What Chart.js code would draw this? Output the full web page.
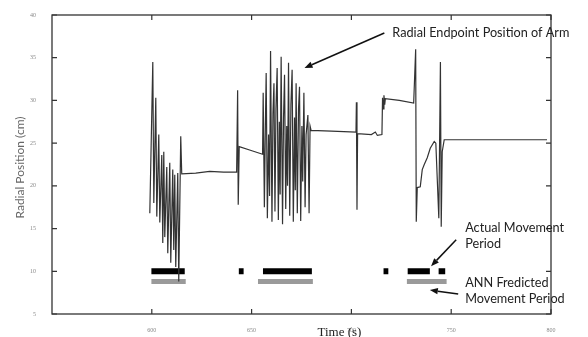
<!DOCTYPE html>
<html><head><meta charset="utf-8">
<script src="https://cdn.jsdelivr.net/npm/chart.js@4.4.1/dist/chart.umd.min.js"></script>
<style>html,body{margin:0;padding:0;background:#fff;}</style>
</head><body>
<canvas id="c" width="588" height="337"></canvas>
<script>
// ---- data ----
const sigT = [
599.0,600.5,601.0,602.0,602.5,603.5,604.0,605.0,605.5,606.0,606.5,607.5,608.0,609.0,609.5,610.5,611.0,611.5,612.0,613.0,613.5,614.5,615.0,
622,629,636,642.5,643.0,643.3,643.8,649,655.5,
655.8,656.4,656.9,657.3,657.9,658.5,659.0,659.5,660.2,660.7,661.2,661.7,662.2,662.8,663.4,663.9,664.3,664.8,665.5,666.0,666.5,667.1,667.6,668.0,668.5,669.1,669.7,670.3,670.9,671.5,671.9,672.3,672.9,673.5,674.0,674.6,675.2,675.6,676.2,676.8,677.3,678.2,678.8,679.3,679.8,
690,702.3,702.5,702.8,703.1,710,712,713,715.3,715.6,716.0,716.3,716.7,717.0,724,731.2,
732.2,732.5,733.0,734.5,735.5,736.5,738.0,739.5,741.5,742.3,743.8,744.6,745.0,745.5,746.5,798
];
const sigV = [
16.8,34.5,18.0,30.3,16.4,26.0,15.7,23.6,13.3,24.0,14.0,22.2,12.1,22.7,11.0,21.9,12.5,21.3,10.5,21.5,8.8,25.8,21.4,
21.5,21.7,21.6,21.6,31.2,17.8,24.6,24.2,23.7,
30.9,17.5,27.0,33.2,16.2,26.0,18.8,35.8,15.8,28.5,32.0,17.0,29.0,33.8,16.0,27.5,19.0,35.1,15.5,28.0,33.0,17.3,27.0,20.0,34.4,16.5,29.5,33.6,15.8,28.0,19.5,32.0,16.8,29.0,31.6,15.9,27.0,20.5,30.9,17.5,26.0,28.3,16.8,27.0,26.5,
26.4,26.3,29.8,17.2,26.1,26.0,26.3,25.9,26.0,30.3,29.0,30.6,29.5,30.2,30.0,29.7,
36.0,15.8,19.8,19.9,21.9,22.5,23.3,24.4,25.2,25.0,16.2,34.5,15.2,24.0,25.4,25.4
];
const actualStart = [599.8, 643.6, 655.7, 716.1, 728.2, 743.7];
const actualEnd   = [616.5, 646.0, 680.2, 718.5, 739.3, 747.0];
const actualLevel = 10.0;
const predStart = [599.8, 653.2, 727.8];
const predEnd   = [617.0, 680.7, 747.7];
const predLevel = 8.8;
const xTicks = [600, 650, 700, 750, 800];
const yTicks = [5, 10, 15, 20, 25, 30, 35, 40];

// ---- annotation layout (data coordinates) ----
const notes = [
  {text:'Radial Endpoint Position of Arm', t:720.5, v:37.4},
  {text:'Actual Movement', t:757, v:14.6},
  {text:'Period', t:757, v:12.7},
  {text:'ANN Fredicted', t:757, v:8.2},
  {text:'Movement Period', t:757, v:6.3}
];
const arrows = [
  {from:[716.5,37.9], to:[676.5,33.8]},
  {from:[752.5,13.7], to:[739.9,10.6]},
  {from:[753.5,7.34], to:[739.3,7.8]}
];

function pairs(ts, vs){ return ts.map((t,i)=>({x:t, y:vs[i]})); }
function segs(starts, ends, level){
  const p=[]; starts.forEach((s,i)=>{ p.push({x:s,y:level},{x:ends[i],y:level},{x:ends[i],y:null}); }); return p;
}

const deco = {
  id:'deco',
  afterDraw(chart){
    const ctx = chart.ctx, a = chart.chartArea, xs = chart.scales.x, ys = chart.scales.y;
    ctx.save();
    ctx.strokeStyle = '#333'; ctx.lineWidth = 1.3;
    ctx.strokeRect(a.left, a.top, a.right-a.left, a.bottom-a.top);
    ctx.lineWidth = 1.2; ctx.beginPath();
    xTicks.forEach(t=>{ const px = xs.getPixelForValue(t);
      ctx.moveTo(px, a.bottom); ctx.lineTo(px, a.bottom-5);
      ctx.moveTo(px, a.top); ctx.lineTo(px, a.top+5); });
    yTicks.forEach(v=>{ const py = ys.getPixelForValue(v);
      ctx.moveTo(a.left, py); ctx.lineTo(a.left+5, py);
      ctx.moveTo(a.right, py); ctx.lineTo(a.right-5, py); });
    ctx.stroke();
    ctx.fillStyle = '#222'; ctx.font = '12.7px Lato'; ctx.textAlign='left'; ctx.textBaseline='alphabetic';
    notes.forEach(n=>ctx.fillText(n.text, xs.getPixelForValue(n.t), ys.getPixelForValue(n.v)));
    ctx.strokeStyle = '#111'; ctx.fillStyle = '#111'; ctx.lineWidth = 1.5;
    arrows.forEach(ar=>{
      const x1=xs.getPixelForValue(ar.from[0]), y1=ys.getPixelForValue(ar.from[1]);
      const x2=xs.getPixelForValue(ar.to[0]), y2=ys.getPixelForValue(ar.to[1]);
      const ang=Math.atan2(y2-y1,x2-x1), L=8, W=3.2;
      const bx=x2-L*Math.cos(ang), by=y2-L*Math.sin(ang);
      ctx.beginPath(); ctx.moveTo(x1,y1); ctx.lineTo(bx,by); ctx.stroke();
      ctx.beginPath(); ctx.moveTo(x2,y2);
      ctx.lineTo(bx+W*Math.sin(ang), by-W*Math.cos(ang));
      ctx.lineTo(bx-W*Math.sin(ang), by+W*Math.cos(ang));
      ctx.closePath(); ctx.fill();
    });
    ctx.fillStyle = '#222'; ctx.font = '13px "Liberation Serif"'; ctx.textAlign='center';
    ctx.fillText('Time (s)', xs.getPixelForValue(694), a.bottom + 22);
    ctx.save();
    ctx.translate(a.left - 32, (a.top + a.bottom)/2 + 3); ctx.rotate(-Math.PI/2);
    ctx.fillStyle = '#666'; ctx.font = '12px Lato'; ctx.textBaseline='middle';
    ctx.fillText('Radial Position (cm)', 0, 0);
    ctx.restore();
    ctx.restore();
  }
};

new Chart(document.getElementById('c'), {
  type:'line',
  data:{ datasets:[
    {label:'Radial Endpoint Position of Arm', data:pairs(sigT,sigV), borderColor:'#333', borderWidth:1.2, pointRadius:0, tension:0, order:0},
    {label:'Actual Movement Period', data:segs(actualStart,actualEnd,actualLevel), borderColor:'#000', borderWidth:6, pointRadius:0, spanGaps:false, borderCapStyle:'butt', order:2},
    {label:'ANN Predicted Movement Period', data:segs(predStart,predEnd,predLevel), borderColor:'#9a9a9a', borderWidth:5, pointRadius:0, spanGaps:false, borderCapStyle:'butt', order:1}
  ]},
  options:{
    responsive:false, animation:false, events:[],
    layout:{padding:{top:15, right:37, left:0, bottom:0}},
    plugins:{legend:{display:false}, tooltip:{enabled:false}},
    scales:{
      x:{type:'linear', min:550, max:800,
         afterBuildTicks(s){ s.ticks = xTicks.map(v=>({value:v})); },
         afterFit(s){ s.height = 23; },
         grid:{display:false}, border:{display:false},
         ticks:{padding:5, font:{size:6, family:'"Liberation Serif"'}, color:'#888', maxRotation:0}},
      y:{type:'linear', min:5, max:40,
         afterBuildTicks(s){ s.ticks = yTicks.map(v=>({value:v})); },
         afterFit(s){ s.width = 52; },
         grid:{display:false}, border:{display:false},
         ticks:{padding:8, font:{size:6, family:'"Liberation Serif"'}, color:'#888'}}
    }
  },
  plugins:[deco]
});
</script>
</body></html>
